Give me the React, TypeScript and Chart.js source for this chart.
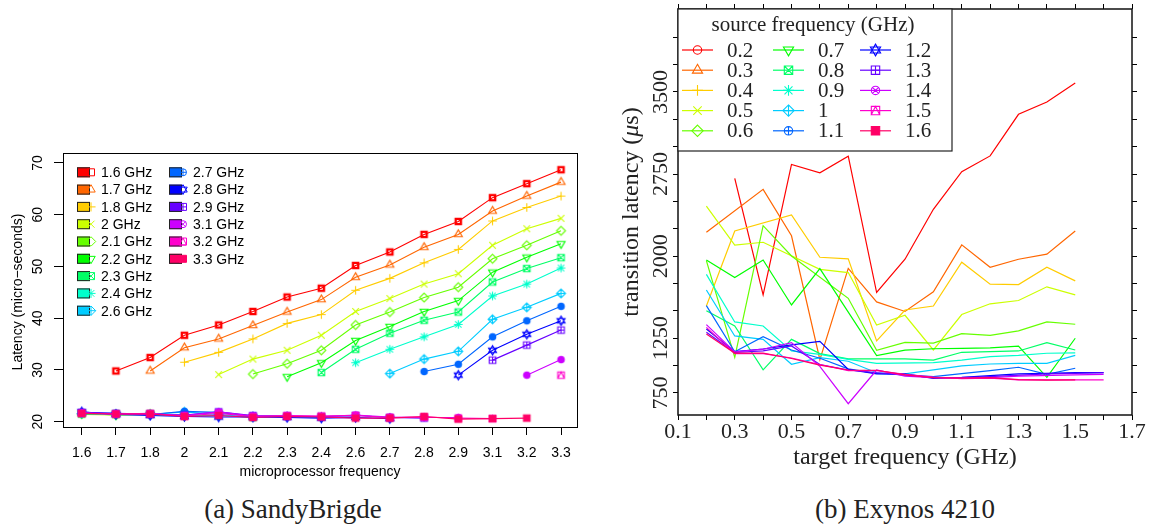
import React, { useEffect, useRef } from 'react';
import { Chart, registerables } from 'chart.js';

Chart.register(...registerables);

// ---------------- (a) SandyBrigde ----------------
const sbCategories = ['1.6', '1.7', '1.8', '2', '2.1', '2.2', '2.3', '2.4', '2.6', '2.7', '2.8', '2.9', '3.1', '3.2', '3.3'];
const sbSeriesLabels = ['1.6 GHz', '1.7 GHz', '1.8 GHz', '2 GHz', '2.1 GHz', '2.2 GHz', '2.3 GHz', '2.4 GHz', '2.6 GHz', '2.7 GHz', '2.8 GHz', '2.9 GHz', '3.1 GHz', '3.2 GHz', '3.3 GHz'];
const sb16 = [null, 29.8, 32.4, 36.7, 38.7, 41.3, 44.1, 45.8, 50.2, 52.8, 56.2, 58.7, 63.3, 66.0, 68.7];
const sb17 = [21.6, null, 29.8, 34.3, 36.0, 38.6, 41.2, 43.6, 47.9, 50.3, 53.7, 56.2, 60.7, 63.6, 66.3];
const sb18 = [21.5, 21.4, null, 31.5, 33.4, 36.0, 39.0, 40.7, 45.4, 47.7, 50.7, 53.3, 58.8, 61.4, 63.6];
const sb20 = [21.4, 21.3, 21.4, null, 29.1, 32.1, 33.8, 36.7, 41.3, 43.8, 46.6, 48.6, 54.1, 57.3, 59.3];
const sb21 = [21.5, 21.4, 21.5, 21.2, null, 29.2, 31.2, 33.8, 38.7, 41.2, 44.0, 46.0, 51.5, 54.1, 56.9];
const sb22 = [21.6, 21.3, 21.4, 21.1, 21.2, null, 28.7, 31.4, 35.7, 38.4, 41.3, 43.4, 48.9, 51.8, 54.4];
const sb23 = [21.5, 21.5, 21.5, 21.2, 21.3, 20.8, null, 29.5, 34.0, 37.1, 39.6, 41.2, 47.0, 49.6, 51.7];
const sb24 = [21.7, 21.4, 21.5, 21.3, 21.2, 20.9, 21.0, null, 31.4, 34.0, 36.4, 38.8, 44.3, 46.6, 49.7];
const sb26 = [21.6, 21.5, 21.4, 21.9, 21.4, 20.9, 21.0, 20.8, null, 29.3, 32.1, 33.6, 39.8, 42.1, 44.8];
const sb27 = [21.8, 21.6, 21.4, 22.0, 21.8, 21.0, 21.1, 20.9, 20.9, null, 29.7, 31.1, 36.4, 39.5, 42.3];
const sb28 = [21.9, 21.4, 21.2, 21.0, 20.9, 20.9, 20.8, 20.7, 20.8, 20.6, null, 29.0, 33.8, 36.9, 39.5];
const sb29 = [21.8, 21.6, 21.5, 21.3, 21.9, 21.2, 21.1, 21.0, 21.2, 20.8, 20.7, null, 31.9, 34.8, 37.7];
const sb31 = [21.7, 21.5, 21.5, 21.2, 21.9, 21.1, 21.1, 21.0, 21.3, 20.9, 20.8, 20.8, null, 29.0, 32.0];
const sb32 = [21.6, 21.5, 21.6, 21.1, 21.6, 21.0, 21.2, 21.1, 21.2, 20.8, 20.9, 20.7, 20.6, null, 29.0];
const sb33 = [21.6, 21.5, 21.5, 21.0, 21.2, 20.8, 21.0, 20.9, 20.7, 20.7, 21.0, 20.5, 20.6, 20.7, null];
const sbSeries = [sb16, sb17, sb18, sb20, sb21, sb22, sb23, sb24, sb26, sb27, sb28, sb29, sb31, sb32, sb33];
const sbYTicks = [20, 30, 40, 50, 60, 70];

// ---------------- (b) Exynos 4210 ----------------
const exTargets = [0.2, 0.3, 0.4, 0.5, 0.6, 0.7, 0.8, 0.9, 1.0, 1.1, 1.2, 1.3, 1.4, 1.5, 1.6];
const exSourceLabels = ['0.2', '0.3', '0.4', '0.5', '0.6', '0.7', '0.8', '0.9', '1', '1.1', '1.2', '1.3', '1.4', '1.5', '1.6'];
const ex02 = [null, 2711, 1647, 2838, 2762, 2914, 1668, 1972, 2428, 2772, 2916, 3296, 3409, 3582, null];
const ex03 = [2218, null, 2610, 2186, 1055, 1888, 1582, 1495, 1674, 2103, 1899, 1972, 2018, 2230, null];
const ex04 = [1545, 2230, null, 2376, 1990, 1976, 1226, 1508, 1545, 1945, 1744, 1740, 1899, 1774, null];
const ex05 = [2458, 2102, 2127, null, 1880, 1850, 1371, 1460, 1143, 1467, 1565, 1595, 1720, 1647, null];
const ex06 = [1959, 1076, 2279, 2002, null, 1615, 1140, 1212, 1206, 1292, 1277, 1317, 1399, 1378, null];
const ex07 = [1965, 1805, 1965, 1554, 1886, null, 1091, 1142, 1154, 1157, 1163, 1179, 893, 1250, null];
const ex08 = [1502, 1362, 962, 1240, 1110, 1061, null, 1061, 1051, 1122, 1128, 1134, 1210, 1143, null];
const ex09 = [1834, 1399, 1362, 1134, 1103, 1058, 1021, null, 1027, 1051, 1082, 1094, 1113, 1116, null];
const ex10 = [1691, 1271, 1240, 1012, 1073, 1040, 935, 924, null, 997, 1015, 1021, 1021, 1094, null];
const ex11 = [1548, 1127, 1264, 1143, 1067, 970, 930, 915, 899, null, 954, 985, 921, 976, null];
const ex12 = [1335, 1128, 1152, 1189, 1222, 966, 924, 924, 884, 893, null, 924, 930, 936, 936];
const ex13 = [1305, 1120, 1135, 1180, 1010, 960, 935, 915, 890, 890, 900, null, 925, 930, 935];
const ex14 = [1375, 1125, 1150, 1210, 993, 652, 960, 905, 890, 885, 890, 905, null, 915, 920];
const ex15 = [1350, 1110, 1110, 1070, 1010, 955, 955, 920, 895, 880, 885, 870, 870, null, 870];
const ex16 = [1290, 1115, 1115, 1065, 1005, 960, 958, 915, 890, 885, 890, 872, 868, 870, null];
const exSeries = [ex02, ex03, ex04, ex05, ex06, ex07, ex08, ex09, ex10, ex11, ex12, ex13, ex14, ex15, ex16];
const exXTicks = [0.1, 0.2, 0.3, 0.4, 0.5, 0.6, 0.7, 0.8, 0.9, 1.0, 1.1, 1.2, 1.3, 1.4, 1.5, 1.6, 1.7];
const exXLabels = ['0.1', '0.3', '0.5', '0.7', '0.9', '1.1', '1.3', '1.5', '1.7'];
const exXLabelValues = [0.1, 0.3, 0.5, 0.7, 0.9, 1.1, 1.3, 1.5, 1.7];
const exYTicks = [750, 1000, 1250, 1500, 1750, 2000, 2250, 2500, 2750, 3000, 3250, 3500, 3750, 4000];
const exYLabels = ['750', '1250', '2000', '2750', '3500'];
const exYLabelValues = [750, 1250, 2000, 2750, 3500];

// ---------------- styles ----------------
const COLORS = ['#FF0000', '#FF6600', '#FFCC00', '#CCFF00', '#66FF00', '#00FF00', '#00FF66', '#00FFCC', '#00CCFF', '#0066FF', '#0000FF', '#6600FF', '#CC00FF', '#FF00CC', '#FF0066'];
const SB_PCH = [0, 2, 3, 4, 5, 6, 7, 8, 9, 10, 11, 12, 13, 14, 15];
const EX_PCH = [1, 2, 3, 4, 5, 6, 7, 8, 9, 10, 11, 12, 13, 14, 15];
const SANS = '"Liberation Sans", Arial, Helvetica, sans-serif';
const SERIF = '"Liberation Serif", "Times New Roman", serif';

function drawPch(ctx: any, pch: number, x: number, y: number, r: number, color: string, lw: number) {
  ctx.save();
  ctx.strokeStyle = color;
  ctx.fillStyle = color;
  ctx.lineWidth = lw;
  ctx.beginPath();
  const square = (k: number) => ctx.rect(x - k, y - k, 2 * k, 2 * k);
  const circle = (k: number) => { ctx.moveTo(x + k, y); ctx.arc(x, y, k, 0, Math.PI * 2); };
  const plus = (k: number) => { ctx.moveTo(x - k, y); ctx.lineTo(x + k, y); ctx.moveTo(x, y - k); ctx.lineTo(x, y + k); };
  const cross = (k: number) => { ctx.moveTo(x - k, y - k); ctx.lineTo(x + k, y + k); ctx.moveTo(x - k, y + k); ctx.lineTo(x + k, y - k); };
  const tri = (k: number, d: number) => {
    ctx.moveTo(x, y - d * k);
    ctx.lineTo(x + k * 0.866, y + d * k * 0.5);
    ctx.lineTo(x - k * 0.866, y + d * k * 0.5);
    ctx.closePath();
  };
  const diamond = (k: number) => { ctx.moveTo(x, y - k); ctx.lineTo(x + k, y); ctx.lineTo(x, y + k); ctx.lineTo(x - k, y); ctx.closePath(); };
  switch (pch) {
    case 0: square(r); break;
    case 1: circle(r); break;
    case 2: tri(r * 1.4, 1); break;
    case 3: plus(r * 1.3); break;
    case 4: cross(r); break;
    case 5: diamond(r * 1.35); break;
    case 6: tri(r * 1.4, -1); break;
    case 7: square(r); cross(r); break;
    case 8: plus(r * 1.3); cross(r * 0.95); break;
    case 9: diamond(r * 1.35); plus(r * 1.35); break;
    case 10: circle(r); plus(r); break;
    case 11: tri(r * 1.4, 1); tri(r * 1.4, -1); break;
    case 12: square(r); plus(r); break;
    case 13: circle(r); cross(r * 0.707); break;
    case 14: square(r); ctx.moveTo(x, y - r); ctx.lineTo(x + r, y + r); ctx.lineTo(x - r, y + r); ctx.closePath(); break;
    case 15: square(r); ctx.fill(); break;
    default: break;
  }
  ctx.stroke();
  ctx.restore();
}

function makeMarker(pch: number, color: string, r: number, lw: number) {
  const size = Math.ceil(r * 3 + lw * 2 + 2);
  const c = document.createElement('canvas');
  c.width = size;
  c.height = size;
  const ctx = c.getContext('2d');
  drawPch(ctx, pch, size / 2, size / 2, r, color, lw);
  return c;
}

function rotatedText(ctx: any, text: string, x: number, y: number, baseline: string) {
  ctx.save();
  ctx.translate(x, y);
  ctx.rotate(-Math.PI / 2);
  ctx.textAlign = 'center';
  ctx.textBaseline = baseline;
  ctx.fillText(text, 0, 0);
  ctx.restore();
}

const tickGrid = (len: number, width: number) => ({
  drawOnChartArea: false,
  drawTicks: true,
  tickLength: len,
  color: '#000',
  lineWidth: width,
});

// ---------- left chart config ----------
function sbConfig(): any {
  const sbPlugin = {
    id: 'sbDecor',
    afterDraw(chart: any) {
      const { ctx, chartArea: ca, scales } = chart;
      ctx.save();
      ctx.strokeStyle = '#000';
      ctx.lineWidth = 1;
      ctx.strokeRect(Math.round(ca.left) + 0.5, Math.round(ca.top) + 0.5, Math.round(ca.right - ca.left), Math.round(ca.bottom - ca.top));
      ctx.fillStyle = '#000';
      ctx.font = `14px ${SANS}`;
      ctx.textAlign = 'center';
      ctx.textBaseline = 'middle';
      sbCategories.forEach((lab, i) => ctx.fillText(lab, scales.x.getPixelForValue(i), ca.bottom + 26));
      ctx.fillText('microprocessor frequency', (ca.left + ca.right) / 2, ca.bottom + 45);
      sbYTicks.forEach((v) => rotatedText(ctx, String(v), ca.left - 21, scales.y.getPixelForValue(v), 'alphabetic'));
      rotatedText(ctx, 'Latency (micro\u2212seconds)', ca.left - 41, (ca.top + ca.bottom) / 2 + 2, 'alphabetic');
      // legend (two columns: 9 + 6)
      const rowH = 17.3;
      sbSeriesLabels.forEach((lab, i) => {
        const col = i < 9 ? 0 : 1;
        const row = i < 9 ? i : i - 9;
        const bx = ca.left + 14 + col * 92;
        const by = ca.top + 19.3 + row * rowH;
        ctx.fillStyle = COLORS[i];
        ctx.fillRect(bx, by - 5, 13, 10);
        ctx.strokeStyle = '#222';
        ctx.lineWidth = 1;
        ctx.strokeRect(bx + 0.5, by - 4.5, 12, 9);
        drawPch(ctx, SB_PCH[i], bx + 14, by, 3.5, COLORS[i], 1);
        ctx.fillStyle = '#000';
        ctx.textAlign = 'left';
        ctx.textBaseline = 'middle';
        ctx.font = `14px ${SANS}`;
        ctx.fillText(lab, bx + 24, by + 1);
      });
      ctx.restore();
    },
  };
  return {
    type: 'line',
    data: {
      datasets: sbSeries.map((vals, i) => ({
        label: sbSeriesLabels[i],
        data: vals.map((v, j) => ({ x: j, y: v })),
        borderColor: COLORS[i],
        backgroundColor: COLORS[i],
        borderWidth: 1.1,
        pointStyle: i === 0 || i === 9 || i === 12
          ? makeMarker(SB_PCH[i], COLORS[i], 2.6, 2.4)
          : makeMarker(SB_PCH[i], COLORS[i], 3.3, 1.1),
        pointRadius: 4,
        spanGaps: false,
        tension: 0,
        order: sbSeries.length - i,
      })),
    },
    options: {
      responsive: false,
      animation: false,
      events: [],
      layout: { padding: { left: 0, right: 23, top: 153, bottom: 0 } },
      plugins: { legend: { display: false }, tooltip: { enabled: false } },
      scales: {
        x: {
          type: 'linear',
          min: -0.546,
          max: 14.467,
          afterBuildTicks: (s: any) => { s.ticks = sbCategories.map((_, i) => ({ value: i })); },
          afterFit: (s: any) => { s.height = 63; },
          ticks: { display: false },
          grid: tickGrid(8, 1),
          border: { display: false },
        },
        y: {
          type: 'linear',
          min: 18.976,
          max: 71.93,
          afterBuildTicks: (s: any) => { s.ticks = sbYTicks.map((v) => ({ value: v })); },
          afterFit: (s: any) => { s.width = 63; },
          ticks: { display: false },
          grid: tickGrid(9, 1),
          border: { display: false },
        },
      },
    },
    plugins: [sbPlugin],
  };
}

// ---------- right chart config ----------
function exConfig(): any {
  const exPlugin = {
    id: 'exDecor',
    afterDraw(chart: any) {
      const { ctx, chartArea: ca, scales } = chart;
      ctx.save();
      ctx.strokeStyle = '#111';
      ctx.lineWidth = 1.5;
      ctx.strokeRect(ca.left, ca.top, ca.right - ca.left, ca.bottom - ca.top);
      ctx.fillStyle = '#222';
      ctx.font = `22px ${SERIF}`;
      ctx.textAlign = 'center';
      ctx.textBaseline = 'alphabetic';
      exXLabelValues.forEach((v, i) => ctx.fillText(exXLabels[i], scales.x.getPixelForValue(v), ca.bottom + 23));
      exYLabelValues.forEach((v, i) => rotatedText(ctx, exYLabels[i], ca.left - 11, scales.y.getPixelForValue(v), 'alphabetic'));
      ctx.font = `24px ${SERIF}`;
      ctx.textBaseline = 'middle';
      ctx.fillText('target frequency (GHz)', (ca.left + ca.right) / 2, ca.bottom + 43);
      // y title with italic mu
      {
        const partA = 'transition latency (';
        const partB = '\u03bc';
        const partC = 's)';
        const fN = `24px ${SERIF}`;
        const fI = `italic 24px ${SERIF}`;
        ctx.font = fN;
        const wA = ctx.measureText(partA).width;
        const wC = ctx.measureText(partC).width;
        ctx.font = fI;
        const wB = ctx.measureText(partB).width;
        const total = wA + wB + wC;
        ctx.save();
        ctx.translate(ca.left - 46, (ca.top + ca.bottom) / 2);
        ctx.rotate(-Math.PI / 2);
        ctx.textAlign = 'left';
        ctx.textBaseline = 'middle';
        let px = -total / 2;
        ctx.font = fN; ctx.fillText(partA, px, 0); px += wA;
        ctx.font = fI; ctx.fillText(partB, px, 0); px += wB;
        ctx.font = fN; ctx.fillText(partC, px, 0);
        ctx.restore();
      }
      // legend
      const lx = ca.left, ly = ca.top, lw = 274, lh = 142;
      ctx.fillStyle = '#fff';
      ctx.fillRect(lx, ly, lw, lh);
      ctx.strokeStyle = '#222';
      ctx.lineWidth = 1.2;
      ctx.strokeRect(lx, ly, lw, lh);
      ctx.fillStyle = '#222';
      ctx.font = `21px ${SERIF}`;
      ctx.textAlign = 'center';
      ctx.textBaseline = 'middle';
      ctx.fillText('source frequency (GHz)', lx + 135, ly + 16);
      const colX = [4, 95, 182];
      exSourceLabels.forEach((lab, i) => {
        const col = Math.floor(i / 5);
        const row = i % 5;
        const x0 = lx + colX[col];
        const y0 = ly + 41 + row * 20.2;
        ctx.strokeStyle = COLORS[i];
        ctx.lineWidth = 1.2;
        ctx.beginPath();
        ctx.moveTo(x0, y0);
        ctx.lineTo(x0 + 31, y0);
        ctx.stroke();
        drawPch(ctx, EX_PCH[i], x0 + 15.5, y0, 4.2, COLORS[i], 1.1);
        ctx.fillStyle = '#222';
        ctx.textAlign = 'left';
        ctx.textBaseline = 'middle';
        ctx.font = `21px ${SERIF}`;
        ctx.fillText(lab, x0 + 45, y0 + 1);
      });
      ctx.restore();
    },
  };
  const xTicks = (s: any) => { s.ticks = exXTicks.map((v) => ({ value: v })); };
  const yTicks = (s: any) => { s.ticks = exYTicks.map((v) => ({ value: v })); };
  return {
    type: 'line',
    data: {
      datasets: exSeries.map((vals, i) => ({
        label: exSourceLabels[i],
        data: vals.map((v, j) => ({ x: exTargets[j], y: v })),
        borderColor: COLORS[i],
        backgroundColor: COLORS[i],
        borderWidth: 1.2,
        pointRadius: 0,
        spanGaps: true,
        tension: 0,
        order: exSeries.length - i,
      })),
    },
    options: {
      responsive: false,
      animation: false,
      events: [],
      layout: { padding: 0 },
      plugins: { legend: { display: false }, tooltip: { enabled: false } },
      scales: {
        x: {
          type: 'linear', position: 'bottom', min: 0.1, max: 1.7,
          afterBuildTicks: xTicks, afterFit: (s: any) => { s.height = 65; },
          ticks: { display: false }, grid: tickGrid(5, 1), border: { display: false },
        },
        x2: {
          type: 'linear', position: 'top', min: 0.1, max: 1.7,
          afterBuildTicks: xTicks, afterFit: (s: any) => { s.height = 9; },
          ticks: { display: false }, grid: tickGrid(5, 1), border: { display: false },
        },
        y: {
          type: 'linear', position: 'left', min: 549, max: 4258,
          afterBuildTicks: yTicks, afterFit: (s: any) => { s.width = 78; },
          ticks: { display: false }, grid: tickGrid(5, 1), border: { display: false },
        },
        y2: {
          type: 'linear', position: 'right', min: 549, max: 4258,
          afterBuildTicks: yTicks, afterFit: (s: any) => { s.width = 21; },
          ticks: { display: false }, grid: tickGrid(5, 1), border: { display: false },
        },
      },
    },
    plugins: [exPlugin],
  };
}

export default function App() {
  const leftRef = useRef<HTMLCanvasElement>(null);
  const rightRef = useRef<HTMLCanvasElement>(null);
  useEffect(() => {
    const c1 = new Chart(leftRef.current as any, sbConfig());
    const c2 = new Chart(rightRef.current as any, exConfig());
    return () => {
      c1.destroy();
      c2.destroy();
    };
  }, []);
  const caption: any = {
    position: 'absolute',
    top: 494,
    width: 320,
    height: 34,
    lineHeight: '34px',
    textAlign: 'center',
    font: `27px ${SERIF}`,
    color: '#222',
    whiteSpace: 'nowrap',
  };
  return (
    <div style={{ position: 'fixed', left: 0, top: 0, width: 1153, height: 530, background: '#fff', overflow: 'hidden' }}>
      <canvas ref={leftRef} width={600} height={490} style={{ position: 'absolute', left: 0, top: 0, width: 600, height: 490 }} />
      <canvas ref={rightRef} width={553} height={480} style={{ position: 'absolute', left: 600, top: 0, width: 553, height: 480 }} />
      <div style={{ ...caption, left: 133 }}>(a) SandyBrigde</div>
      <div style={{ ...caption, left: 745 }}>(b) Exynos 4210</div>
    </div>
  );
}
